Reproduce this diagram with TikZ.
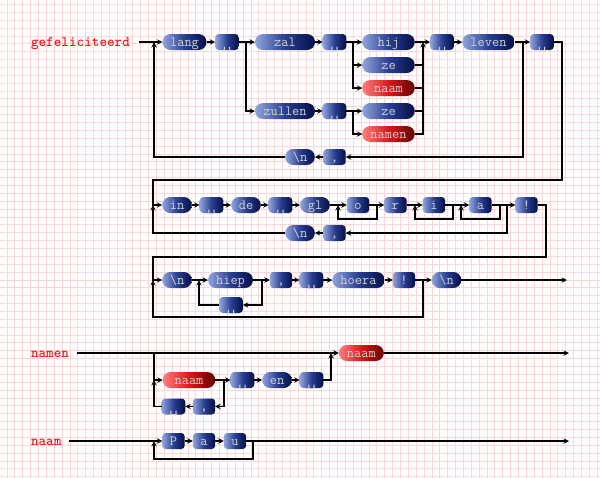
\documentclass[tikz,border=0pt]{standalone}
\usepackage{fontspec}
\newfontfamily\spacefont{DejaVu Sans Mono}
\usetikzlibrary{arrows}

\definecolor{tokl}{RGB}{145,165,220}
\definecolor{tokm}{RGB}{40,62,145}
\definecolor{tokr}{RGB}{5,15,70}
\definecolor{hotl}{RGB}{255,125,125}
\definecolor{hotm}{RGB}{215,25,25}
\definecolor{hotr}{RGB}{100,0,0}
\definecolor{toktext}{RGB}{210,210,210}
\definecolor{lbltext}{RGB}{235,30,30}
\definecolor{gridpink}{RGB}{251,214,214}

\newcommand{\spc}{{\spacefont\raisebox{-2pt}{\char"2423}}}

\tikzset{
  tok/.style={rounded corners=8pt, minimum height=16pt, inner xsep=7.6pt, inner ysep=0pt,
    outer sep=0pt, left color=tokl, right color=tokr, middle color=tokm, text=toktext,
    text height=9pt, text depth=1pt, font=\ttfamily\fontsize{14}{14}\selectfont},
  chr/.style={tok, rounded corners=3.5pt},
  hot/.style={left color=hotl, right color=hotr, middle color=hotm},
  lbl/.style={anchor=west, inner sep=0pt, outer sep=0pt, text=lbltext,
    text height=9pt, text depth=1pt, font=\ttfamily\bfseries\fontsize{14.5}{14.5}\selectfont},
  rail/.style={line width=1.4pt, >=stealth},
}

\begin{document}
\begin{tikzpicture}[x=1pt, y=-1pt, rail]
      \useasboundingbox (0,0) rectangle (600,477);
      \fill[white] (0,0) rectangle (600,477);
      \begin{scope}[shift={(6.8,4.3)}]
        \draw[gridpink, line width=0.5pt] (-10,480) grid[step=7.87pt] (600,-10);
      \end{scope}

      % gefeliciteerd
      \node[lbl] (gef) at (31,42) {gefeliciteerd};
      \node[tok] (lang) at (184.5,42) {lang};
      \node[chr] (sp1) at (227,42) {\spc};
      \node[tok, minimum width=60pt] (zal) at (285,42) {zal};
      \node[chr] (sp2) at (334.5,42) {\spc};
      \node[tok, minimum width=52.5pt] (hij) at (388.5,42) {hij};
      \node[tok, minimum width=52.5pt] (ze1) at (388.5,65) {ze};
      \node[tok, hot, minimum width=52.5pt] (naam1) at (388.5,88) {naam};
      \node[tok, minimum width=60pt] (zullen) at (285,111) {zullen};
      \node[chr] (sp5) at (334.5,111) {\spc};
      \node[tok, minimum width=52.5pt] (ze2) at (388.5,111) {ze};
      \node[tok, hot, minimum width=52.5pt] (namen) at (388.5,134) {namen};
      \node[chr] (sp3) at (442,42) {\spc};
      \node[tok, minimum width=52.5pt] (leven) at (488.5,42) {leven};
      \node[chr] (sp4) at (542,42) {\spc};
      \node[chr] (comma1) at (334.5,157) {,};
      \node[tok] (nl1) at (300,157) {\textbackslash n};
      \coordinate (j1) at (154,42);
      \coordinate (j2) at (246,42);
      \coordinate (j3) at (353,42);
      \coordinate (j4) at (353,111);
      \coordinate (j5) at (423,42);
      \coordinate (j6) at (523,42);
      \coordinate (e1) at (562,180);
      \coordinate (w1) at (153,180);

      \draw[->, shorten <=9pt] (gef) -- (lang);
      \draw[->] (nl1) -| (j1);
      \draw[->] (lang) -- (sp1);
      \draw[->] (sp1) -- (zal);
      \draw[->] (j2) |- (zullen);
      \draw[->] (zal) -- (sp2);
      \draw[->] (zullen) -- (sp5);
      \draw[->] (sp2) -- (hij);
      \draw[->] (j3) |- (ze1);
      \draw[->] (j3) |- (naam1);
      \draw[->] (sp5) -- (ze2);
      \draw[->] (j4) |- (namen);
      \draw (ze1) -- (ze1 -| j5);
      \draw (naam1) -- (naam1 -| j5);
      \draw (ze2) -- (ze2 -| j5);
      \draw[->] (namen) -| (j5);
      \draw[->] (hij) -- (sp3);
      \draw[->] (sp3) -- (leven);
      \draw[->] (leven) -- (sp4);
      \draw[->] (j6) |- (comma1);
      \draw[->] (comma1) -- (nl1);

      % in de gloria
      \node[tok] (in) at (177,205) {in};
      \node[chr] (sp6) at (211.5,205) {\spc};
      \node[tok] (de) at (246,205) {de};
      \node[chr] (sp7) at (280.5,205) {\spc};
      \node[tok] (gl) at (315,205) {gl};
      \node[chr] (o) at (358,205) {o};
      \node[chr] (r) at (395.5,205) {r};
      \node[chr] (i) at (434,205) {i};
      \node[chr] (a) at (480.5,205) {a};
      \node[chr] (excl1) at (526.5,205) {!};
      \node[chr] (comma2) at (334.5,233) {,};
      \node[tok] (nl2) at (300,233) {\textbackslash n};
      \coordinate (k1) at (153,205);
      \coordinate (o1) at (338,205);
      \coordinate (o2) at (377,205);
      \coordinate (i1) at (415,205);
      \coordinate (i2) at (453,205);
      \coordinate (a1) at (461,205);
      \coordinate (a2) at (500,205);
      \coordinate (k2) at (507,205);
      \coordinate (e2) at (546,257);
      \coordinate (w2) at (153,257);

      \draw[->] (sp4) -| (e1) -- (w1) |- (in);
      \draw[->] (in) -- (sp6);
      \draw[->] (sp6) -- (de);
      \draw[->] (de) -- (sp7);
      \draw[->] (sp7) -- (gl);
      \draw[->] (gl) -- (o);
      \draw[->] (o2) -- ++(0,14) -| (o1);
      \draw[->] (o) -- (r);
      \draw[->] (r) -- (i);
      \draw[->] (i2) -- ++(0,14) -| (i1);
      \draw[->] (i) -- (a);
      \draw[->] (a2) -- ++(0,14) -| (a1);
      \draw[->] (a) -- (excl1);
      \draw[->] (k2) |- (comma2);
      \draw[->] (comma2) -- (nl2);
      \draw[->] (nl2) -| (k1);

      % hiep hiep hoera
      \node[tok] (nl3) at (177,280) {\textbackslash n};
      \node[tok, minimum width=45pt] (hiep) at (230.5,280) {hiep};
      \node[chr] (sp8) at (231,305) {\spc};
      \node[chr] (comma3) at (281,280) {,};
      \node[chr] (sp9) at (311.5,280) {\spc};
      \node[tok, minimum width=52.5pt] (hoera) at (358.5,280) {hoera};
      \node[chr] (excl2) at (404,280) {!};
      \node[tok] (nl4) at (446.5,280) {\textbackslash n};
      \coordinate (h1) at (199,280);
      \coordinate (h2) at (262,280);
      \coordinate (k3) at (153,280);
      \coordinate (k4) at (423,280);
      \coordinate (end1) at (567,280);

      \draw[->] (excl1) -| (e2) -- (w2) |- (nl3);
      \draw[->] (nl3) -- (hiep);
      \draw[->] (h2) |- (sp8);
      \draw[->] (sp8) -| (h1);
      \draw[->] (hiep) -- (comma3);
      \draw[->] (comma3) -- (sp9);
      \draw[->] (sp9) -- (hoera);
      \draw[->] (hoera) -- (excl2);
      \draw[->] (excl2) -- (nl4);
      \draw[->] (k4) -- ++(0,37) -| (k3);
      \draw[->] (nl4) -- (end1);

      % namen
      \node[lbl] (lnamen) at (31,353) {namen};
      \node[tok, hot, minimum width=52.5pt] (naam2) at (189,380) {naam};
      \node[chr] (comma4) at (204,406.5) {,};
      \node[chr] (sp11) at (173.5,406.5) {\spc};
      \node[chr] (sp10) at (242.5,380) {\spc};
      \node[tok] (en) at (277,380) {en};
      \node[chr] (sp12) at (311.5,380) {\spc};
      \node[tok, hot, minimum width=45pt] (naam3) at (361.3,353) {naam};
      \coordinate (m1) at (154,353);
      \coordinate (m2) at (154,380);
      \coordinate (m3) at (224,380);
      \coordinate (m4) at (331,353);
      \coordinate (end2) at (569,353);

      \draw[->, shorten <=8pt] (lnamen) -- (naam3);
      \draw[->] (m1) |- (naam2);
      \draw[->] (m3) |- (comma4);
      \draw[->] (comma4) -- (sp11);
      \draw[->] (sp11) -| (m2);
      \draw[->] (naam2) -- (sp10);
      \draw[->] (sp10) -- (en);
      \draw[->] (en) -- (sp12);
      \draw[->] (sp12) -| (m4);
      \draw[->] (naam3) -- (end2);

      % naam
      \node[lbl] (lnaam) at (31,441) {naam};
      \node[chr] (pp) at (173.5,441) {P};
      \node[chr] (pa) at (204,441) {a};
      \node[chr] (pu) at (235,441) {u};
      \coordinate (n1) at (154,441);
      \coordinate (n2) at (253,441);
      \coordinate (end3) at (569,441);

      \draw[->, shorten <=8pt] (lnaam) -- (pp);
      \draw[->] (pp) -- (pa);
      \draw[->] (pa) -- (pu);
      \draw[->] (pu) -- (end3);
      \draw[->] (n2) -- ++(0,18) -| (n1);
\end{tikzpicture}
\end{document}
